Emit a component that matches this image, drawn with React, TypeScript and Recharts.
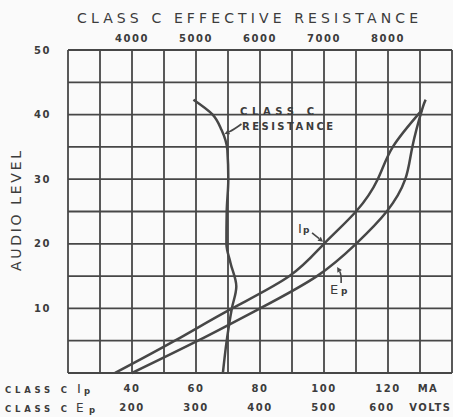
import { CartesianGrid, Label, Line, LineChart, ReferenceDot, XAxis, YAxis } from "recharts";

// audio level (y) for every curve point
const ipLevels = [0, 5, 10, 15, 20, 25, 30, 35, 40.7];
const ipMa = [34.7, 53.4, 71.3, 89.2, 100, 110, 116.8, 121.5, 130.6];

const epLevels = [0, 5, 10, 15, 20, 25, 30, 35, 40.7, 42.3];
const epVolts = [200, 303, 400, 489, 550, 598, 627, 638, 653, 659];

const resLevels = [0, 5, 10, 13.4, 17, 20, 25, 30, 34.5, 37.6, 40, 42.3];
const resOhms = [5420, 5480, 5560, 5630, 5540, 5475, 5480, 5505, 5490, 5400, 5260, 4960];

const levelTicks = [0, 5, 10, 15, 20, 25, 30, 35, 40, 45, 50];
const ipTicks = [20, 30, 40, 50, 60, 70, 80, 90, 100, 110, 120, 130, 140];
const ipLabels: Record<number, string> = { 40: "40", 60: "60", 80: "80", 100: "100", 120: "120", 130: "MA" };
const epTicks = [200, 300, 400, 500, 600, 660];
const epLabels: Record<number, string> = { 200: "200", 300: "300", 400: "400", 500: "500", 600: "600", 660: "VOLTS" };
const resTicks = [4000, 5000, 6000, 7000, 8000];

// merge the three curves into one table keyed by level
const allLevels = Array.from(new Set([...ipLevels, ...epLevels, ...resLevels])).sort((a, b) => a - b);
const rows = allLevels.map((level) => {
  const row: Record<string, number | null> = { level, ip: null, ep: null, res: null };
  const i = ipLevels.indexOf(level);
  if (i >= 0) row.ip = ipMa[i];
  const e = epLevels.indexOf(level);
  if (e >= 0) row.ep = epVolts[e];
  const r = resLevels.indexOf(level);
  if (r >= 0) row.res = resOhms[r];
  return row;
});

const INK = "#3c3c3c";
const LINE = "#474747";
const FONT = "'DejaVu Sans', sans-serif";
const tickFont = { fill: INK, fontSize: 10, fontWeight: 700, fontFamily: FONT, letterSpacing: 1.5 };

const ipTick = (p: any) => {
  const label = ipLabels[p.payload.value];
  if (!label) return <g />;
  return (
    <text x={p.x + (label === "MA" ? 8 : 0)} y={p.y} dy="0.71em" textAnchor="middle" {...tickFont}>
      {label}
    </text>
  );
};

const epTick = (p: any) => {
  const label = epLabels[p.payload.value];
  if (!label) return <g />;
  return (
    <text x={p.x + (label === "VOLTS" ? 4 : label === "600" ? -6 : 0)} y={p.y} dy="0.71em" textAnchor="middle" {...tickFont}>
      {label}
    </text>
  );
};

const captionFont = { fill: INK, fontFamily: FONT, fontWeight: 700 };

const ipCaption = () => (
  <text y={393} {...captionFont}>
    <tspan x={5} fontSize={8.5} textLength={62}>CLASS C</tspan>
    <tspan x={77} fontSize={13} fontWeight={400}>I</tspan>
    <tspan x={84} fontSize={8.5} dy={1}>p</tspan>
  </text>
);

const epCaption = () => (
  <text y={412} {...captionFont}>
    <tspan x={5} fontSize={8.5} textLength={62}>CLASS C</tspan>
    <tspan x={76} fontSize={12} fontWeight={400}>E</tspan>
    <tspan x={89} fontSize={8.5} dy={1}>p</tspan>
  </text>
);

const titleCaption = () => (
  <text x={77} y={23} fontSize={14} fill={INK} fontFamily={FONT} textLength={341} lengthAdjust="spacing">
    CLASS C EFFECTIVE RESISTANCE
  </text>
);

const levelCaption = () => (
  <text
    x={16}
    y={211}
    transform="rotate(-90 16 211)"
    textAnchor="middle"
    dominantBaseline="central"
    fontSize={14}
    fill={INK}
    fontFamily={FONT}
    textLength={120}
    lengthAdjust="spacing"
  >
    AUDIO LEVEL
  </text>
);

const textAt = (text: string, width: number) => (p: any) => (
  <text x={p.cx} y={p.cy} fontSize={10} fontWeight={700} fill={INK} fontFamily={FONT} textLength={width} lengthAdjust="spacing">
    {text}
  </text>
);

const subLabel = (main: string, gap: number) => (p: any) => (
  <text y={p.cy} fill={INK} fontFamily={FONT}>
    <tspan x={p.cx} fontSize={13}>{main}</tspan>
    <tspan x={p.cx + gap} fontSize={9} fontWeight={700}>p</tspan>
  </text>
);

// arrow drawn from a tail offset to the dot position
const arrow = (dx: number, dy: number, bend: number) => (p: any) => {
  const { cx, cy } = p;
  const tx = cx + dx;
  const ty = cy + dy;
  const mx = (cx + tx) / 2 - dy * bend;
  const my = (cy + ty) / 2 + dx * bend;
  const a = Math.atan2(cy - my, cx - mx);
  const h = 5;
  const w = 2.6;
  const bx = cx - h * Math.cos(a);
  const by = cy - h * Math.sin(a);
  return (
    <g>
      <path d={`M${tx},${ty} Q${mx},${my} ${bx},${by}`} fill="none" stroke={LINE} strokeWidth={1.6} />
      <path
        d={`M${cx},${cy} L${bx - w * Math.sin(a)},${by + w * Math.cos(a)} L${bx + w * Math.sin(a)},${by - w * Math.cos(a)} Z`}
        fill={LINE}
      />
    </g>
  );
};

export default function App() {
  return (
    <div style={{ width: 453, height: 417, background: "#fafafa" }}>
      <style>{"body{margin:0}"}</style>
      <LineChart
        width={453}
        height={417}
        data={rows}
        layout="vertical"
        margin={{ top: 20, right: 1, bottom: 0, left: 0 }}
      >
        <CartesianGrid xAxisId="a_ma" stroke={LINE} strokeWidth={1.8} />
        <XAxis
          xAxisId="a_ma"
          type="number"
          orientation="bottom"
          domain={[20, 140]}
          ticks={ipTicks}
          interval={0}
          allowDataOverflow
          tick={ipTick}
          tickLine={false}
          axisLine={false}
          tickSize={0}
          tickMargin={12}
          height={18}
        >
          <Label content={ipCaption} />
        </XAxis>
        <XAxis
          xAxisId="b_volts"
          type="number"
          orientation="bottom"
          domain={[100, 700]}
          ticks={epTicks}
          interval={0}
          allowDataOverflow
          tick={epTick}
          tickLine={false}
          axisLine={false}
          tickSize={0}
          tickMargin={13}
          height={26}
        >
          <Label content={epCaption} />
        </XAxis>
        <XAxis
          xAxisId="c_ohms"
          type="number"
          orientation="top"
          domain={[3000, 9000]}
          ticks={resTicks}
          interval={0}
          allowDataOverflow
          tick={tickFont}
          tickLine={false}
          axisLine={false}
          tickSize={0}
          tickMargin={8}
          height={30}
        >
          <Label content={titleCaption} />
        </XAxis>
        <YAxis
          type="number"
          dataKey="level"
          domain={[0, 50]}
          reversed
          ticks={levelTicks}
          interval={0}
          tickFormatter={(v: number) => (v > 0 && v % 10 === 0 ? String(v) : "")}
          tick={tickFont}
          tickLine={false}
          axisLine={false}
          tickSize={0}
          tickMargin={17}
          width={68}
        >
          <Label content={levelCaption} />
        </YAxis>

        <Line xAxisId="a_ma" dataKey="ip" type="natural" stroke={LINE} strokeWidth={2.5} dot={false} connectNulls isAnimationActive={false} />
        <Line xAxisId="b_volts" dataKey="ep" type="natural" stroke={LINE} strokeWidth={2.5} dot={false} connectNulls isAnimationActive={false} />
        <Line xAxisId="c_ohms" dataKey="res" type="monotone" stroke={LINE} strokeWidth={2.5} dot={false} connectNulls isAnimationActive={false} />

        <ReferenceDot xAxisId="a_ma" x={73.75} y={39.9} r={0} shape={textAt("CLASS C", 74)} />
        <ReferenceDot xAxisId="a_ma" x={74.4} y={37.6} r={0} shape={textAt("RESISTANCE", 91)} />
        <ReferenceDot xAxisId="a_ma" x={68.9} y={37.0} r={0} shape={arrow(17, -10, 0.05)} />
        <ReferenceDot xAxisId="a_ma" x={91.9} y={21.7} r={0} shape={subLabel("I", 5)} />
        <ReferenceDot xAxisId="a_ma" x={99.7} y={20.3} r={0} shape={arrow(-11, -9, 0)} />
        <ReferenceDot xAxisId="a_ma" x={101.9} y={12.2} r={0} shape={subLabel("E", 11)} />
        <ReferenceDot xAxisId="a_ma" x={104.1} y={16.4} r={0} shape={arrow(4, 16, -0.15)} />
      </LineChart>
    </div>
  );
}
